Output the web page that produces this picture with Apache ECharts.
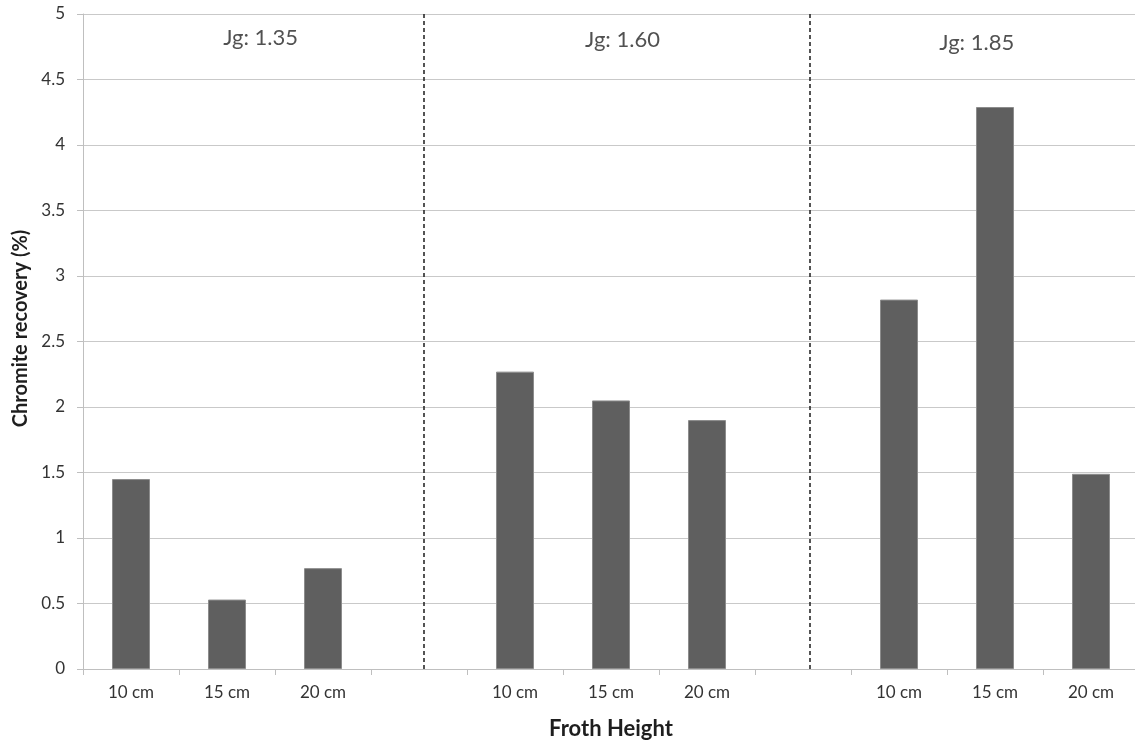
<!DOCTYPE html>
<html>
<head>
<meta charset="utf-8">
<script src="https://cdn.jsdelivr.net/npm/echarts@6/dist/echarts.min.js"></script>
<style>
  html, body { margin: 0; padding: 0; background: #ffffff; overflow: hidden; }
  #chart { width: 1135px; height: 740px; }
</style>
</head>
<body>
<div id="chart"></div>
<script>
// Froth height categories, three Jg groups separated by an empty slot
const categories = ['10 cm', '15 cm', '20 cm', '', '10 cm', '15 cm', '20 cm', '', '10 cm', '15 cm', '20 cm'];
// Chromite recovery (%) per froth height; null marks the empty slots
const recovery = [1.45, 0.53, 0.77, null, 2.27, 2.05, 1.90, null, 2.82, 4.29, 1.49];
// Y axis ticks
const yMin = 0, yMax = 5, yStep = 0.5;
// Group separators, in category units along the axis
const separatorX = [3.55, 7.57];
// Group headings and their positions (category units, recovery %)
const groupLabels = ['Jg: 1.35', 'Jg: 1.60', 'Jg: 1.85'];
const groupLabelX = [1.85, 5.62, 9.31];
const groupLabelY = [4.82, 4.80, 4.78];

const FONT = 'Lato, "Open Sans", sans-serif';
const chart = echarts.init(document.getElementById('chart'), null, { renderer: 'canvas' });

chart.setOption({
  animation: false,
  backgroundColor: '#ffffff',
  // the plot area runs slightly past the right edge of the canvas
  grid: { left: 83, top: 14, width: 1056, height: 655, containLabel: false, outerBoundsMode: 'none' },
  xAxis: [
    {
      type: 'category',
      data: categories,
      boundaryGap: true,
      name: 'Froth Height',
      nameLocation: 'middle',
      nameGap: 49,
      nameTextStyle: { fontFamily: FONT, fontSize: 22, fontWeight: 'bold', color: '#1e1e1e' },
      axisLine: { lineStyle: { color: '#bfbfbf', width: 1 } },
      axisTick: { show: true, length: 6, interval: 0, lineStyle: { color: '#bfbfbf' } },
      axisLabel: { interval: 0, margin: 15, fontFamily: FONT, fontSize: 17, color: '#333333' },
      splitLine: { show: false }
    },
    {
      type: 'value',
      min: 0,
      max: categories.length,
      show: false
    }
  ],
  yAxis: {
    type: 'value',
    min: yMin,
    max: yMax,
    interval: yStep,
    name: 'Chromite recovery (%)',
    nameLocation: 'middle',
    nameGap: 49,
    nameRotate: 90,
    nameTextStyle: { fontFamily: FONT, fontSize: 20, fontWeight: 'bold', color: '#1e1e1e', padding: [0, 0, 0, 26] },
    axisLine: { show: true, lineStyle: { color: '#bfbfbf', width: 1 } },
    axisTick: { show: true, length: 6, lineStyle: { color: '#bfbfbf' } },
    axisLabel: { margin: 18, fontFamily: FONT, fontSize: 17, color: '#333333' },
    splitLine: { show: true, lineStyle: { color: '#c9c9c9', width: 1.2 } }
  },
  series: [
    {
      type: 'bar',
      xAxisIndex: 0,
      data: recovery,
      barWidth: 38,
      itemStyle: { color: '#5f5f5f', borderColor: '#8c8c8c', borderWidth: 1 }
    },
    {
      type: 'scatter',
      xAxisIndex: 1,
      yAxisIndex: 0,
      symbolSize: 1,
      itemStyle: { color: 'rgba(0,0,0,0)' },
      data: groupLabels.map((t, i) => ({ value: [groupLabelX[i], groupLabelY[i]], name: t })),
      label: {
        show: true,
        position: 'inside',
        formatter: p => p.name,
        fontFamily: FONT,
        fontSize: 22,
        color: '#262626'
      },
      markLine: {
        silent: true,
        symbol: ['none', 'none'],
        label: { show: false },
        lineStyle: { color: '#2a2a2a', type: [4, 3], width: 1.6 },
        data: separatorX.map(x => ({ xAxis: x }))
      },
      z: 5
    }
  ]
});
</script>
</body>
</html>
